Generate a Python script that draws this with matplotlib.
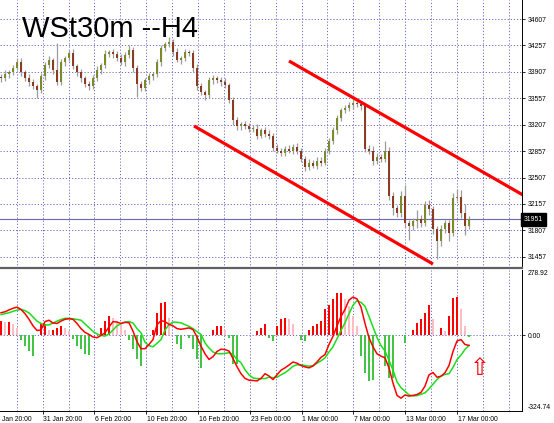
import numpy as np
import matplotlib
matplotlib.use('Agg')
import matplotlib.pyplot as plt
from matplotlib.transforms import blended_transform_factory

plt.rcParams['font.family'] = ['Liberation Sans', 'DejaVu Sans']

title = 'WSt30m --H4'

# H4 candles, close prices (open = previous close)
first_open = 33840
close = [33822, 33875, 33902, 33955, 34035, 33902, 33822, 33769, 33715, 33662,
         33848, 33995, 34061, 33928, 33769, 34035, 34088, 34155, 33981, 33902,
         33822, 33742, 33715, 33822, 33928, 33995, 34141, 34168, 34141, 34088,
         34035, 34128, 34195, 33955, 33742, 33689, 33795, 33848, 33875, 34035,
         34221, 34274, 34301, 34168, 34061, 34088, 34168, 34155, 33955, 33715,
         33635, 33596, 33795, 33822, 33795, 33769, 33729, 33529, 33263, 33183,
         33210, 33183, 33156, 33156, 33063, 33130, 33090, 33063, 32903, 32864,
         32837, 32890, 32864, 32917, 32864, 32757, 32651, 32704, 32664, 32730,
         32704, 32864, 32997, 33130, 33289, 33396, 33423, 33462, 33489, 33476,
         33449, 32890, 32864, 32730, 32784, 32757, 32864, 32264, 32105, 32038,
         32264, 31905, 31865, 31932, 31958, 31905, 32145, 32091, 31825, 31666,
         31825, 31905, 31772, 32241, 32255, 32038, 31865, 31951]
up_wick = [40, 53, 30, 45, 53, 60, 35, 50, 40, 30,
           45, 40, 55, 35, 360, 40, 30, 45, 50, 35,
           40, 30, 45, 40, 55, 35, 50, 30, 40, 45,
           50, 40, 67, 35, 45, 40, 30, 50, 35, 45,
           40, 35, 67, 45, 50, 35, 40, 30, 45, 60,
           40, 35, 50, 45, 30, 40, 55, 35, 45, 40,
           35, 50, 40, 45, 60, 35, 40, 45, 30, 50,
           40, 35, 45, 30, 50, 40, 35, 45, 40, 55,
           50, 40, 35, 45, 40, 30, 45, 50, 106, 35,
           40, 45, 50, 60, 45, 40, 133, 50, 45, 40,
           60, 150, 45, 40, 120, 50, 45, 60, 40, 35,
           50, 45, 40, 60, 106, 80, 120, 45]
dn_wick = [45, 35, 50, 40, 30, 45, 40, 50, 35, 106,
           40, 50, 35, 45, 40, 30, 45, 40, 35, 50,
           45, 35, 50, 40, 30, 45, 40, 35, 50, 40,
           35, 45, 40, 50, 173, 40, 35, 45, 50, 40,
           45, 35, 40, 50, 30, 45, 40, 35, 50, 45,
           40, 67, 35, 45, 40, 50, 30, 40, 60, 45,
           40, 35, 50, 45, 40, 35, 45, 50, 40, 35,
           45, 40, 35, 50, 45, 40, 60, 45, 35, 40,
           45, 35, 40, 50, 45, 30, 40, 35, 45, 40,
           50, 40, 45, 60, 40, 50, 45, 60, 90, 50,
           60, 70, 180, 50, 90, 60, 45, 80, 60, 240,
           60, 50, 106, 45, 50, 70, 120, 40]

# oscillator window
main_line = [96, 100, 108, 115, 120, 110, 92, 68, 40, 20,
             22, 58, 64, 52, 50, 60, 68, 70, 68, 50,
             28, 12, 3, -8, -11, -1, 10, 35, 58, 56,
             50, 55, 53, 17, -28, -58, -58, -40, -19, 45,
             62, 58, 46, 40, 28, 25, 28, 31, 24, -8,
             -47, -80, -104, -92, -70, -60, -62, -68, -100, -135,
             -165, -185, -193, -194, -196, -185, -165, -175, -190, -170,
             -150, -140, -128, -115, -120, -130, -136, -140, -132, -115,
             -95, -83, -40, -5, 40, 80, 110, 150, 163, 155,
             120, 50, -11, -50, -80, -90, -97, -140, -205, -258,
             -270, -256, -261, -258, -254, -245, -218, -170, -160, -180,
             -176, -161, -130, -70, -25, -19, -40, -44]
signal_line = [88, 92, 96, 102, 107, 110, 105, 95, 78, 60,
               50, 43, 44, 52, 60, 67, 72, 72, 70, 67,
               64, 48, 32, 16, 5, -1, -4, 5, 22, 40,
               49, 56, 58, 52, 28, 10, -30, -45, -50, -35,
               -19, 22, 45, 56, 55, 53, 45, 38, 28, 15,
               3, -33, -55, -72, -79, -80, -78, -75, -82, -105,
               -118, -148, -170, -183, -186, -186, -186, -180, -182, -180,
               -170, -161, -148, -133, -127, -127, -130, -133, -131, -120,
               -110, -97, -72, -50, -15, 20, 53, 92, 128, 148,
               140, 124, 80, 35, -10, -45, -68, -108, -150, -200,
               -225, -240, -256, -260, -259, -253, -247, -230, -210, -190,
               -175, -168, -165, -138, -105, -85, -61, -44]
histogram = [60, 56, 56, 47, 30, -21, -47, -68, -90, 0,
             47, 47, 22, 24, 30, 39, 30, 17, -17, -47,
             -60, -80, -83, 0, 0, 31, 60, 81, 74, 60,
             45, 24, -19, -61, -104, -133, 0, 0, 24, 96,
             138, 141, 74, 0, -40, -61, 0, -11, -61, -104,
             -140, 0, 0, 24, 39, 39, 24, -11, -125, -125,
             0, 0, 0, 0, 17, 31, 46, -11, -26, 39,
             67, 74, 67, 46, 0, -19, -26, 24, 39, 46,
             60, 110, 131, 153, 181, 181, 153, 124, 81, 39,
             -90, -161, -197, -190, 0, 0, -133, -183, -183, 0,
             0, -33, 0, 24, 53, 67, 96, 127, 67, 0,
             31, 17, 81, 160, 164, 110, 39, -9]

price_ticks = [34607, 34257, 33907, 33557, 33207, 32857, 32507, 32157, 31807, 31457]
last_price = 31951
ind_max, ind_min = 278.92, -324.74
# first label is only partly on screen in the terminal
date_labels = ['Jan 20:00', '31 Jan 20:00', '6 Feb 20:00', '10 Feb 20:00',
               '16 Feb 20:00', '23 Feb 00:00', '1 Mar 00:00', '7 Mar 00:00',
               '13 Mar 00:00', '17 Mar 00:00']

# channel trend lines (bar, price)
channel_upper = ([72, 130.5], [34051, 32275])
channel_lower = ([48.25, 108], [33190, 31361])

grid_col = '#6c6cc8'
grid_ls = (0, (1.2, 2.0))
fs = 4.9

fig = plt.figure(figsize=(5.54, 4.23), dpi=100)
ax = fig.add_axes([0, 155 / 423, 522 / 554, 268 / 423])
ax2 = fig.add_axes([0, 12 / 423, 522 / 554, 141 / 423], sharex=ax)

n = len(close)
x = np.arange(n)
c = np.array(close, dtype=float)
o = np.concatenate([[first_open], c[:-1]])
hi = np.maximum(o, c) + np.array(up_wick)
lo = np.minimum(o, c) - np.array(dn_wick)

xlim = (-0.25, 130.25)
grid_x = 3.925 + 6.475 * np.arange(0, 20)
label_x = 3.925 + 6.475 * (2 * np.arange(len(date_labels)) - 1)
label_x[0] = 0.0

# grids
for gx in grid_x:
    ax.axvline(gx, color=grid_col, lw=0.7, ls=grid_ls, zorder=0)
    ax2.axvline(gx, color=grid_col, lw=0.7, ls=grid_ls, zorder=0)
for p in price_ticks:
    ax.axhline(p, color=grid_col, lw=0.7, ls=grid_ls, zorder=0)
ax2.axhline(0, color=grid_col, lw=0.7, ls=grid_ls, zorder=0)

# candles
ax.vlines(x, lo, hi, color='#9c9c9c', lw=0.9, zorder=2)
bull = c >= o
body_h = np.maximum(np.abs(c - o), 8)
ax.bar(x, body_h, bottom=np.minimum(o, c), width=0.72,
       color=np.where(bull, '#7a8c2a', '#8c3a22'), edgecolor='none', zorder=3)

ax.axhline(last_price, color='#6a6ab4', lw=0.8, zorder=1)
ax.plot(*channel_upper, color='#ff0000', lw=2.3, zorder=4, solid_capstyle='butt')
ax.plot(*channel_lower, color='#ff0000', lw=2.3, zorder=4, solid_capstyle='butt')

ax.set_xlim(*xlim)
ax.set_ylim(31308, 34859)
ax.yaxis.tick_right()
ax.set_yticks(price_ticks)
ax.set_yticklabels([str(p) for p in price_ticks])
ax.tick_params(axis='y', labelsize=fs, length=2.5, width=0.6, pad=1.8)
ax.tick_params(axis='x', bottom=False, labelbottom=False)
for s in ['top', 'left']:
    ax.spines[s].set_visible(False)
ax.spines['right'].set_color('black')
ax.spines['right'].set_linewidth(0.7)
ax.spines['bottom'].set_color('#606060')
ax.spines['bottom'].set_linewidth(1.6)

ytr = ax.get_yaxis_transform()
ax.text(1.004, last_price, str(last_price), transform=ytr, fontsize=fs,
        color='white', va='center', ha='left', clip_on=False,
        bbox=dict(boxstyle='square,pad=0.45', fc='black', ec='black'))

fig.text(22 / 554, (423 - 37) / 423, title, fontsize=21, va='baseline', ha='left')

# oscillator
h = np.array(histogram, dtype=float)
prev = np.concatenate([[0], h[:-1]])
hcol = np.where(h < 0, '#44c444', np.where(h >= prev, '#ff0000', '#ffbcc4'))
ax2.bar(x, h, width=0.55, color=hcol, edgecolor='none', zorder=2)
ax2.plot(x, signal_line, color='#18e018', lw=1.1, zorder=3)
ax2.plot(x, main_line, color='#ff0000', lw=1.1, zorder=4)
ax2.text(119.8, -140, '\u21e7', color='#ff0000', fontsize=17, ha='center',
         va='center', family='DejaVu Sans', zorder=5)

ax2.set_ylim(ind_min, ind_max)
ax2.yaxis.tick_right()
ax2.set_yticks([0])
ax2.set_yticklabels(['0.00'])
ax2.tick_params(axis='y', labelsize=fs, length=2.5, width=0.6, pad=1.8)
ytr2 = ax2.get_yaxis_transform()
ax2.text(1.01, ind_max, '278.92', transform=ytr2, fontsize=fs, va='top', ha='left', clip_on=False)
ax2.text(1.01, ind_min, '-324.74', transform=ytr2, fontsize=fs, va='bottom', ha='left', clip_on=False)
for s in ['top', 'left']:
    ax2.spines[s].set_visible(False)
ax2.spines['right'].set_linewidth(0.7)
ax2.spines['bottom'].set_linewidth(0.7)

vis = [lx for lx in label_x[1:] if xlim[0] <= lx <= xlim[1]]
ax2.set_xticks(vis)
ax2.tick_params(axis='x', length=2.5, width=0.6, labelbottom=False)
xtr = blended_transform_factory(ax2.transData, ax2.transAxes)
for lx, lab in zip(label_x, date_labels):
    ax2.text(lx + 0.2, -0.035, lab, transform=xtr, fontsize=fs, va='top',
             ha='left', clip_on=False)

fig.savefig('out.png', dpi=100)
